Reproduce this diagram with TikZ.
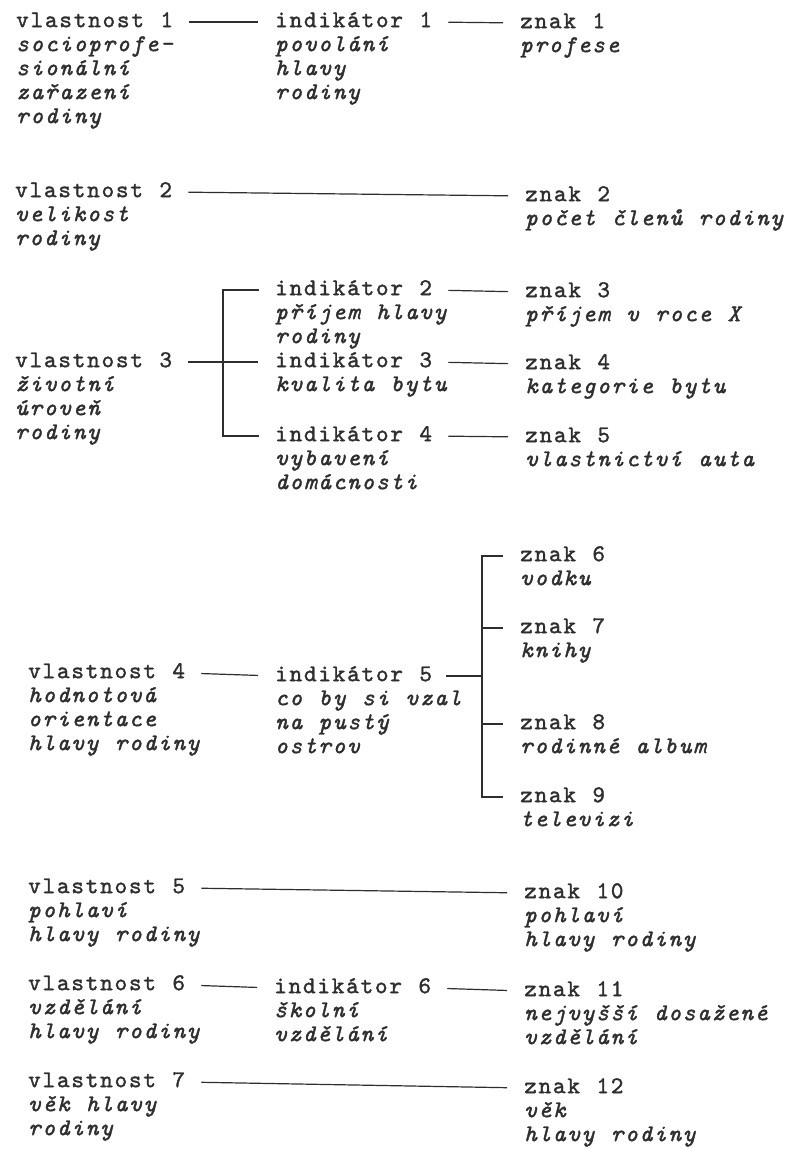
\documentclass[tikz,border=0pt]{standalone}
\usepackage{fontspec}
\newfontfamily\tw[ItalicFont=lmmono10-italic.otf, LetterSpace=7.5, WordSpace=1.143, RawFeature={embolden=1.5}]{lmmono10-regular.otf}
\definecolor{ink}{HTML}{2E2E2E}
\newcommand\hdfont{\tw\fontsize{24}{24}\selectfont}
\newcommand\dsfont{\tw\itshape\fontsize{24}{24}\selectfont}
\newcommand\dl[1]{\begin{tabular}[t]{@{}l@{}}#1\end{tabular}}
\tikzset{
  head/.style={font=\hdfont, text=ink, inner sep=0pt, text height=10.3pt, text depth=0pt, anchor=west},
  desc/.style={font=\dsfont, text=ink, inner sep=0pt, anchor=base west},
  link/.style={draw=ink, line width=1.2pt, shorten <=16pt, shorten >=17pt},
  brk/.style={draw=ink, line width=1.2pt}
}
\begin{document}
\begin{tikzpicture}[x=1pt,y=-1pt]
\useasboundingbox[fill=white] (0,0) rectangle (788,1149);
% ---- block 1
\node[head] (v1) at (16,22) {vlastnost 1};
\node[head] (i1) at (275,22) {indikátor 1};
\node[head] (z1) at (520,23) {znak 1};
\node[desc] (v1d) at ([yshift=-24pt]v1.base west) {\dl{socioprofe-\\sionální\\zařazení\\rodiny}};
\node[desc] (i1d) at ([yshift=-24pt]i1.base west) {\dl{povolání\\hlavy\\rodiny}};
\node[desc] (z1d) at ([yshift=-24pt]z1.base west) {\dl{profese}};
\draw[link] (v1.east) -- (i1.west);
\draw[link] (i1.east) -- (z1.west);
% ---- block 2
\node[head] (v2) at (15,192) {vlastnost 2};
\node[head] (z2) at (525,196) {znak 2};
\node[desc] (v2d) at ([yshift=-24pt]v2.base west) {\dl{velikost\\rodiny}};
\node[desc] (z2d) at ([yshift=-24pt]z2.base west) {\dl{počet členů rodiny}};
\draw[link] (v2.east) -- (z2.west);
% ---- block 3
\node[head] (i2) at (275,290) {indikátor 2};
\node[head] (z3) at (525,292) {znak 3};
\node[head] (v3) at (15,362) {vlastnost 3};
\node[head] (i3) at (275,362) {indikátor 3};
\node[head] (z4) at (525,364) {znak 4};
\node[head] (i4) at (275,436) {indikátor 4};
\node[head] (z5) at (525,437) {znak 5};
\node[desc] (i2d) at ([yshift=-24pt]i2.base west) {\dl{příjem hlavy\\rodiny}};
\node[desc] (z3d) at ([yshift=-24pt]z3.base west) {\dl{příjem v roce X}};
\node[desc] (v3d) at ([yshift=-24pt]v3.base west) {\dl{životní\\úroveň\\rodiny}};
\node[desc] (i3d) at ([yshift=-24pt]i3.base west) {\dl{kvalita bytu}};
\node[desc] (z4d) at ([yshift=-24pt]z4.base west) {\dl{kategorie bytu}};
\node[desc] (i4d) at ([yshift=-24pt]i4.base west) {\dl{vybavení\\domácnosti}};
\node[desc] (z5d) at ([yshift=-24pt]z5.base west) {\dl{vlastnictví auta}};
\coordinate (b3) at (223,362);
\draw[link] (v3.east) -- (i3.west);
\draw[brk] ([xshift=-16pt]i2.west) -- (b3 |- i2.west) -- (b3 |- i4.west) -- ([xshift=-16pt]i4.west);
\draw[link] (i2.east) -- (z3.west);
\draw[link] (i3.east) -- (z4.west);
\draw[link] (i4.east) -- (z5.west);
% ---- block 4
\node[head] (z6) at (520,556) {znak 6};
\node[head] (z7) at (520,628) {znak 7};
\node[head] (v4) at (28,673) {vlastnost 4};
\node[head] (i5) at (275,676) {indikátor 5};
\node[head] (z8) at (520,724) {znak 8};
\node[head] (z9) at (520,797) {znak 9};
\node[desc] (z6d) at ([yshift=-24pt]z6.base west) {\dl{vodku}};
\node[desc] (z7d) at ([yshift=-24pt]z7.base west) {\dl{knihy}};
\node[desc] (v4d) at ([yshift=-24pt]v4.base west) {\dl{hodnotová\\orientace\\hlavy rodiny}};
\node[desc] (i5d) at ([yshift=-24pt]i5.base west) {\dl{co by si vzal\\na pustý\\ostrov}};
\node[desc] (z8d) at ([yshift=-24pt]z8.base west) {\dl{rodinné album}};
\node[desc] (z9d) at ([yshift=-24pt]z9.base west) {\dl{televizi}};
\coordinate (b4) at (482,676);
\draw[link] (v4.east) -- (i5.west);
\draw[brk] ([xshift=14pt]i5.east) -- (b4 |- i5.east);
\draw[brk] ([xshift=-17pt]z6.west) -- (b4 |- z6.west) -- (b4 |- z9.west) -- ([xshift=-17pt]z9.west);
\draw[brk] (b4 |- z7.west) -- ([xshift=-17pt]z7.west);
\draw[brk] (b4 |- z8.west) -- ([xshift=-17pt]z8.west);
% ---- block 5
\node[head] (v5) at (28,888) {vlastnost 5};
\node[head] (z10) at (524,893) {znak 10};
\node[desc] (v5d) at ([yshift=-24pt]v5.base west) {\dl{pohlaví\\hlavy rodiny}};
\node[desc] (z10d) at ([yshift=-24pt]z10.base west) {\dl{pohlaví\\hlavy rodiny}};
\draw[link] (v5.east) -- (z10.west);
% ---- block 6
\node[head] (v6) at (28,985) {vlastnost 6};
\node[head] (i6) at (274,988) {indikátor 6};
\node[head] (z11) at (524,991) {znak 11};
\node[desc] (v6d) at ([yshift=-24pt]v6.base west) {\dl{vzdělání\\hlavy rodiny}};
\node[desc] (i6d) at ([yshift=-24pt]i6.base west) {\dl{školní\\vzdělání}};
\node[desc] (z11d) at ([yshift=-24pt]z11.base west) {\dl{nejvyšší dosažené\\vzdělání}};
\draw[link] (v6.east) -- (i6.west);
\draw[link] (i6.east) -- (z11.west);
% ---- block 7
\node[head] (v7) at (28,1082) {vlastnost 7};
\node[head] (z12) at (524,1088) {znak 12};
\node[desc] (v7d) at ([yshift=-24pt]v7.base west) {\dl{věk hlavy\\rodiny}};
\node[desc] (z12d) at ([yshift=-24pt]z12.base west) {\dl{věk\\hlavy rodiny}};
\draw[link] (v7.east) -- (z12.west);
\end{tikzpicture}
\end{document}
